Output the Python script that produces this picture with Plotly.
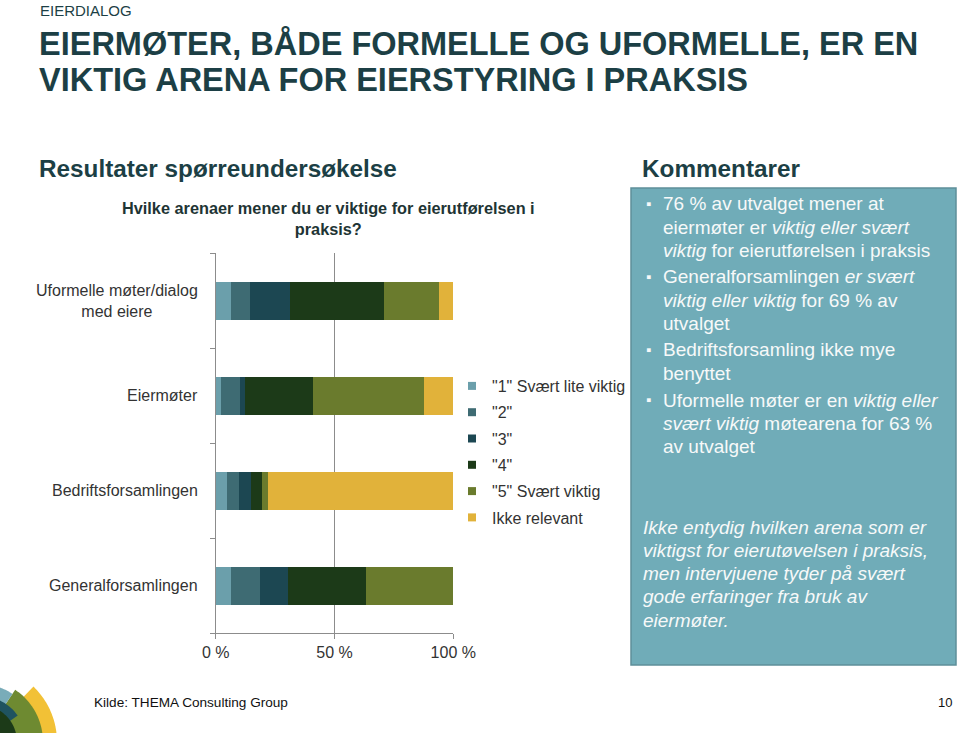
import math
import plotly.graph_objects as go

W, H = 960, 733

# ---------------- data ----------------
categories = ["Generalforsamlingen", "Bedriftsforsamlingen", "Eiermøter",
              "Uformelle møter/dialog<br>med eiere"]
series_names = ['"1" Svært lite viktig', '"2"', '"3"', '"4"', '"5" Svært viktig', 'Ikke relevant']
# values per category (same order as categories), percent of respondents
s1 = [6.3, 4.9, 2.1, 6.3]
s2 = [12.3, 4.9, 8.3, 8.3]
s3 = [11.8, 4.9, 2.0, 16.8]
s4 = [32.8, 4.8, 28.5, 39.4]
s5 = [36.8, 2.4, 46.8, 23.0]
s_ir = [0.0, 78.1, 12.3, 6.2]
series_values = [s1, s2, s3, s4, s5, s_ir]
x_tickvals = [0, 50, 100]
x_ticktext = ["0 %", "50 %", "100 %"]

colors = ["#6b9fab", "#3e6b73", "#1c4752", "#1c3a18", "#6a7b2d", "#e1b23a"]

FONT = "Liberation Sans, Arial, sans-serif"
DARK = "#1c3f45"
TXT = "#333333"


def px(x):
    return x / W


def py(y):
    return 1 - y / H


fig = go.Figure()
for i, (name, vals) in enumerate(zip(series_names, series_values)):
    fig.add_trace(go.Bar(
        y=categories, x=vals, name=name, orientation="h",
        marker=dict(color=colors[i], line=dict(width=0)),
        showlegend=False, hoverinfo="x+name",
    ))
    # legend entry (small square symbol)
    fig.add_trace(go.Scatter(
        x=[None], y=[None], mode="markers", name=name,
        marker=dict(symbol="square", size=8, color=colors[i]),
        legendgroup=f"g{i}", showlegend=True,
    ))

annotations = []
shapes = []

# category labels
for c in categories:
    annotations.append(dict(
        x=px(200), xref="paper", y=c, yref="y", text=c, showarrow=False,
        xanchor="right", yanchor="middle", align="center",
        font=dict(family=FONT, size=16, color=TXT)))

# texts
annotations += [
    dict(x=px(38), y=py(10), text="EIERDIALOG", font=dict(family=FONT, size=15, color=DARK)),
    dict(x=px(37), y=py(43), text="<b>EIERMØTER, BÅDE FORMELLE OG UFORMELLE, ER EN</b>",
         font=dict(family=FONT, size=32.5, color=DARK)),
    dict(x=px(37), y=py(80), text="<b>VIKTIG ARENA FOR EIERSTYRING I PRAKSIS</b>",
         font=dict(family=FONT, size=32.5, color=DARK)),
    dict(x=px(37), y=py(169), text="<b>Resultater spørreundersøkelse</b>",
         font=dict(family=FONT, size=24.3, color=DARK)),
    dict(x=px(640), y=py(169), text="<b>Kommentarer</b>",
         font=dict(family=FONT, size=24.3, color=DARK)),
    dict(x=px(92), y=py(702), text="Kilde: THEMA Consulting Group",
         font=dict(family=FONT, size=13.6, color="#111111")),
    dict(x=px(945), y=py(702), text="10", xanchor="center",
         font=dict(family=FONT, size=13, color="#111111")),
]
annotations.append(dict(
    x=px(328.5), y=py(218), xanchor="center", align="center",
    text="<b>Hvilke arenaer mener du er viktige for eierutførelsen i<br>praksis?</b>",
    font=dict(family=FONT, size=16.3, color="#1e3434")))

# comment box
shapes.append(dict(type="rect", xref="paper", yref="paper",
                   x0=px(631), x1=px(956), y0=py(665), y1=py(188),
                   fillcolor="#70acb8", line=dict(color="#5d8f99", width=1.5), layer="below"))

bullets = [
    (204, ["76 % av utvalget mener at",
           "eiermøter er <i>viktig eller svært</i>",
           "<i>viktig</i> for eierutførelsen i praksis"]),
    (277, ["Generalforsamlingen <i>er svært</i>",
           "<i>viktig eller viktig</i> for 69 % av",
           "utvalget"]),
    (350, ["Bedriftsforsamling ikke mye",
           "benyttet"]),
    (400, ["Uformelle møter er en <i>viktig eller</i>",
           "<i>svært viktig</i> møtearena for 63 %",
           "av utvalget"]),
]
CW = "#f7f9f9"
for y0, lines in bullets:
    annotations.append(dict(x=px(644), y=py(y0 - 1), text="▪",
                            font=dict(family=FONT, size=15, color=CW)))
    for k, ln in enumerate(lines):
        annotations.append(dict(x=px(661), y=py(y0 + 23.2 * k), text=ln,
                                font=dict(family=FONT, size=19, color=CW)))

closing = ["Ikke entydig hvilken arena som er",
           "viktigst for eierutøvelsen i praksis,",
           "men intervjuene tyder på svært",
           "gode erfaringer fra bruk av",
           "eiermøter."]
for k, ln in enumerate(closing):
    annotations.append(dict(x=px(641), y=py(527 + 23.3 * k), text=f"<i>{ln}</i>",
                            font=dict(family=FONT, size=19, color=CW)))

for a in annotations:
    a.setdefault("xref", "paper")
    a.setdefault("yref", "paper")
    a.setdefault("showarrow", False)
    a.setdefault("xanchor", "left")
    a.setdefault("yanchor", "middle")


# logo: sectors around a common centre in the lower-left corner
def sector(cx, cy, r, a0, a1, n=40):
    pts = [(cx, cy)]
    for j in range(n + 1):
        a = math.radians(a0 + (a1 - a0) * j / n)
        pts.append((cx + r * math.cos(a), cy - r * math.sin(a)))
    return "M " + " L ".join(f"{px(x):.5f},{py(y):.5f}" for x, y in pts) + " Z"


logo = [
    (-20, 742, 77, -30, 46, "#f2c136"),
    (-20, 742, 63, -30, 56, "#6e8a31"),
    (-20, 742, 58, 56, 120, "#79acb9"),
    (-20, 742, 46, 35, 120, "#1f5360"),
    (-20, 742, 37, -30, 75, "#1c3a18"),
]
for cx, cy, r, a0, a1, col in logo:
    shapes.append(dict(type="path", xref="paper", yref="paper",
                       path=sector(cx, cy, r, a0, a1), fillcolor=col,
                       line=dict(width=0), layer="above"))

fig.update_layout(
    width=W, height=H, margin=dict(l=0, r=0, t=0, b=0, pad=0, autoexpand=False),
    paper_bgcolor="white", plot_bgcolor="white",
    barmode="stack", bargap=0.6,
    font=dict(family=FONT, size=16, color=TXT),
    xaxis=dict(domain=[px(215.7), px(453.3)], range=[0, 100], automargin=False,
               tickvals=x_tickvals, ticktext=x_ticktext,
               showgrid=True, gridcolor="#8c8c8c", gridwidth=1,
               showline=True, linecolor="#8c8c8c", linewidth=1,
               ticks="outside", ticklen=5, tickcolor="#8c8c8c",
               tickfont=dict(family=FONT, size=16, color=TXT), zeroline=False,
               fixedrange=True),
    yaxis=dict(domain=[py(633), py(253)], type="category", automargin=False,
               categoryorder="array", categoryarray=categories,
               range=[-0.5, 3.5], tickson="boundaries",
               showticklabels=False, showgrid=False,
               showline=True, linecolor="#8c8c8c", linewidth=1,
               ticks="outside", ticklen=5, tickcolor="#8c8c8c", fixedrange=True),
    legend=dict(x=px(452), y=py(369), xanchor="left", yanchor="top",
                traceorder="grouped", tracegroupgap=2.5,
                font=dict(family=FONT, size=16, color=TXT),
                bgcolor="rgba(0,0,0,0)", itemclick=False),
    annotations=annotations, shapes=shapes,
)

fig.write_html(
    "out.html",
    config={"responsive": False, "displayModeBar": False},
    post_script="document.body.style.margin='0';document.body.style.overflow='hidden';",
)
